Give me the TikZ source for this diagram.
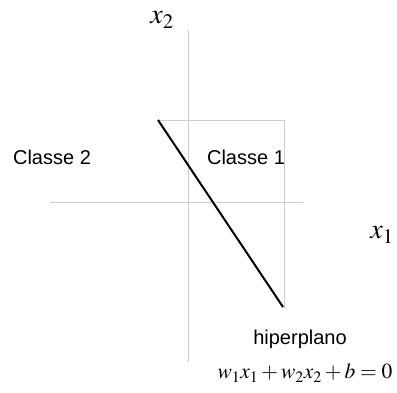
\documentclass[tikz,border=0pt]{standalone}
\usepackage{mathptmx}
\usepackage{fontspec}
\setsansfont{Liberation Sans}
\usetikzlibrary{positioning}
\definecolor{axiscolor}{RGB}{205,205,205}

\begin{document}
\begin{tikzpicture}[x=1pt, y=1pt,
    every node/.style={font=\sffamily\fontsize{20}{23}\selectfont},
    axis/.style={axiscolor, line width=0.6pt},
    plane/.style={black, line width=2pt}]
    \useasboundingbox (0,0) rectangle (397,392);
    % Axes
    \coordinate (x2top) at (188,362);
    \coordinate (x2bot) at (188,30);
    \coordinate (x1left) at (50,190);
    \coordinate (x1right) at (303,190);
    \draw[axis] (x2bot) -- (x2top);
    \draw[axis] (x1left) -- (x1right);
    \node[font=\fontsize{28}{30}\selectfont] (labx2) at (162,372) {$x_2$};
    \node[font=\fontsize{28}{30}\selectfont] (labx1) at (382,157) {$x_1$};
    % Region
    \coordinate (ptop) at (158,272);
    \coordinate (corner) at (284,272);
    \coordinate (cbot) at (284,84);
    \draw[axis] (ptop) -- (corner) -- (cbot);
    % Hyperplane
    \coordinate (pbot) at (283,85);
    \draw[plane] (ptop) -- (pbot);
    % Labels
    \node (cl2) at (52,235) {Classe 2};
    \node (cl1) at (246,235) {Classe 1};
    \node[font=\sffamily\fontsize{20}{22}\selectfont] (hip) at (300,53) {hiperplano};
    \node[font=\fontsize{21.5}{24}\selectfont] (eq) at (305,19) {$w_1x_1+w_2x_2+b=0$};
\end{tikzpicture}
\end{document}
